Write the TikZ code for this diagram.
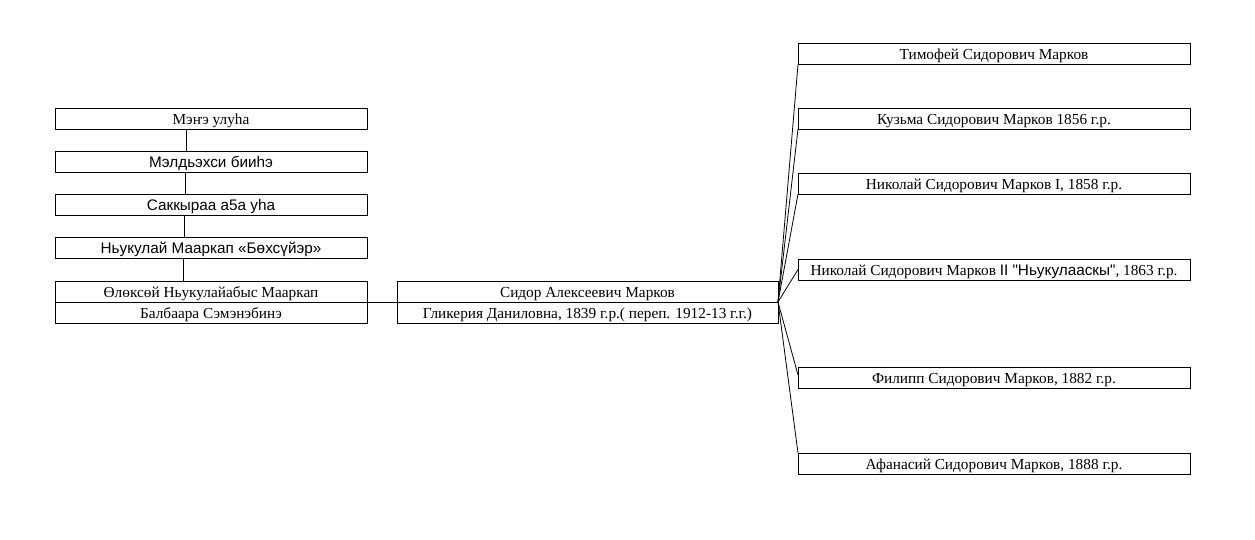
\documentclass[tikz,border=0pt]{standalone}
\usepackage{fontspec}
\setmainfont{Liberation Serif}
\newfontfamily\arialfont{Liberation Sans}
\usetikzlibrary{positioning, calc}

\begin{document}
\begin{tikzpicture}[x=1pt, y=-1pt,
  person/.style={draw, line width=0.9pt, minimum height=21pt, inner sep=0pt, outer sep=0pt,
    text height=12.5pt, text depth=1pt, font=\fontsize{15.3}{17}\selectfont},
  elder/.style={person, minimum width=312pt},
  parent/.style={person, minimum width=381pt},
  child/.style={person, minimum width=392pt},
  link/.style={line width=0.8pt}]
\useasboundingbox (0,0) rectangle (1255,539);

% Ancestors
\node[elder] (b1) at (211,118.5) {Мэҥэ улуһа};
\node[elder] (b2) at (211,161.5) {\arialfont Мэлдьэхси бииһэ};
\node[elder] (b3) at (211,204.5) {\arialfont Саккыраа а5а уһа};
\node[elder] (b4) at (211,247.5) {\arialfont Ньукулай Мааркап «Бөхсүйэр»};
\node[elder] (b5) at (211,291.5) {Өлөксөй Ньукулайабыс Мааркап};
\node[elder, below=0pt of b5] (b5w) {Балбаара Сэмэнэбинэ};

\foreach \u/\v/\dx in {b1/b2/-25, b2/b3/-26, b3/b4/-27, b4/b5/-28}
  \draw[link] ([xshift=\dx pt]\u.south) -- ([xshift=\dx pt]\v.north);

% Parents
\node[parent] (s1) at (587.5,291.5) {Сидор Алексеевич Марков};
\node[parent, below=0pt of s1] (s1w) {Гликерия Даниловна, 1839 г.р.( переп. 1912-13 г.г.)};
\draw[link] (b5.south east) -- (s1.south west);

% Children
\node[child] (c1) at (994,54) {Тимофей Сидорович Марков};
\node[child] (c2) at (994,118.5) {Кузьма Сидорович Марков 1856 г.р.};
\node[child] (c3) at (994,183.5) {Николай Сидорович Марков I, 1858 г.р.};
\node[child] (c4) at (994,269.5) {Николай Сидорович Марков {\arialfont II "Ньукулааскы"}, 1863 г.р.};
\node[child] (c5) at (994,377.5) {Филипп Сидорович Марков, 1882 г.р.};
\node[child] (c6) at (994,463.5) {Афанасий Сидорович Марков, 1888 г.р.};

\draw[link] (s1.south east) -- (c1.south west);
\draw[link] (s1.south east) -- (c2.south west);
\draw[link] (s1.south east) -- (c3.south west);
\draw[link] (s1.south east) -- (c4.west);
\draw[link] (s1.south east) -- ([yshift=-8pt]c5.north west);
\draw[link] (s1.south east) -- (c6.north west);
\end{tikzpicture}
\end{document}
